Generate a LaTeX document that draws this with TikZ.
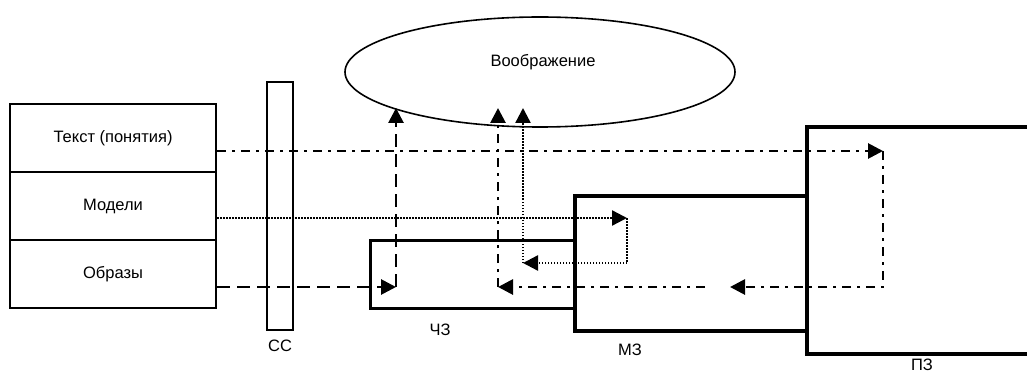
\documentclass[tikz,border=0pt]{standalone}
\usepackage{fontspec}
\setmainfont{Liberation Sans}
\usetikzlibrary{arrows.meta,shapes.geometric}
\begin{document}
\begin{tikzpicture}[x=1pt,y=-1pt,
  font=\fontsize{16.5}{19}\selectfont,
  lbox/.style={draw,line width=2.2pt,minimum width=206pt,minimum height=68pt,inner sep=0pt,anchor=center},
  zone/.style={draw,inner sep=0pt,anchor=center},
  lbl/.style={inner sep=0pt,anchor=center},
  tip/.style={-{Triangle[length=15pt,width=15pt]}},
  dd/.style={line width=2.8pt,dash pattern=on 9pt off 6pt on 3pt off 6pt},
  dsh/.style={line width=2.8pt,dash pattern=on 13pt off 7pt},
  dtt/.style={line width=2.4pt,dash pattern=on 1.5pt off 1.5pt}]
\useasboundingbox (0,0) rectangle (1027,374);
% left boxes
\node[lbox] (txt) at (113,138) {Текст (понятия)};
\node[lbox] (mod) at (113,206) {Модели};
\node[lbox] (obr) at (113,274) {Образы};
% CC bar
\node[zone,line width=2.2pt,minimum width=26pt,minimum height=248pt] (cc) at (280,206) {};
\node[lbl] (cclbl) at (280,346) {СС};
% imagination
\node[draw,ellipse,line width=1.6pt,minimum width=390pt,minimum height=110pt,inner sep=0pt] (imag) at (540,72) {};
\node[lbl] (imaglbl) at (543,62) {Воображение};
% zones
\node[zone,line width=3pt,minimum width=205pt,minimum height=68pt] (chz) at (472.5,274.5) {};
\node[zone,line width=3.4pt,minimum width=232pt,minimum height=135pt] (mz) at (691,263.5) {};
\node[zone,line width=3.8pt,minimum width=240pt,minimum height=227pt] (pz) at (927,240.5) {};
\node[lbl] (chzlbl) at (440,330) {ЧЗ};
\node[lbl] (mzlbl) at (630,350) {МЗ};
\node[lbl] (pzlbl) at (922,364.5) {ПЗ};
% coordinates
\coordinate (t1) at (883,151);
\coordinate (t2) at (883,287);
\coordinate (t3) at (730,287);
\coordinate (t4) at (705,287);
\coordinate (t5) at (498,287);
\coordinate (t6) at (498,108);
\coordinate (m1) at (627,218);
\coordinate (m2) at (627,263);
\coordinate (m3) at (523,263);
\coordinate (m4) at (523,108);
\coordinate (o1) at (396,287);
\coordinate (o2) at (396,108);
% text (dash-dot)
\draw[dd,tip] (txt.east |- t1) -- (t1);
\draw[dd,tip] (t1) -- (t2) -- (t3);
\draw[dd,tip] (t4) -- (t5);
\draw[dd,tip] (t5) -- (t6);
% models (dotted)
\draw[dtt,tip] (mod.east |- m1) -- (m1);
\draw[dtt,tip] (m1) -- (m2) -- (m3);
\draw[dtt,tip] (m3) -- (m4);
% images (dashed)
\draw[dsh,tip] (obr.east |- o1) -- (o1);
\draw[dsh,tip] (o1) -- (o2);
\end{tikzpicture}
\end{document}
